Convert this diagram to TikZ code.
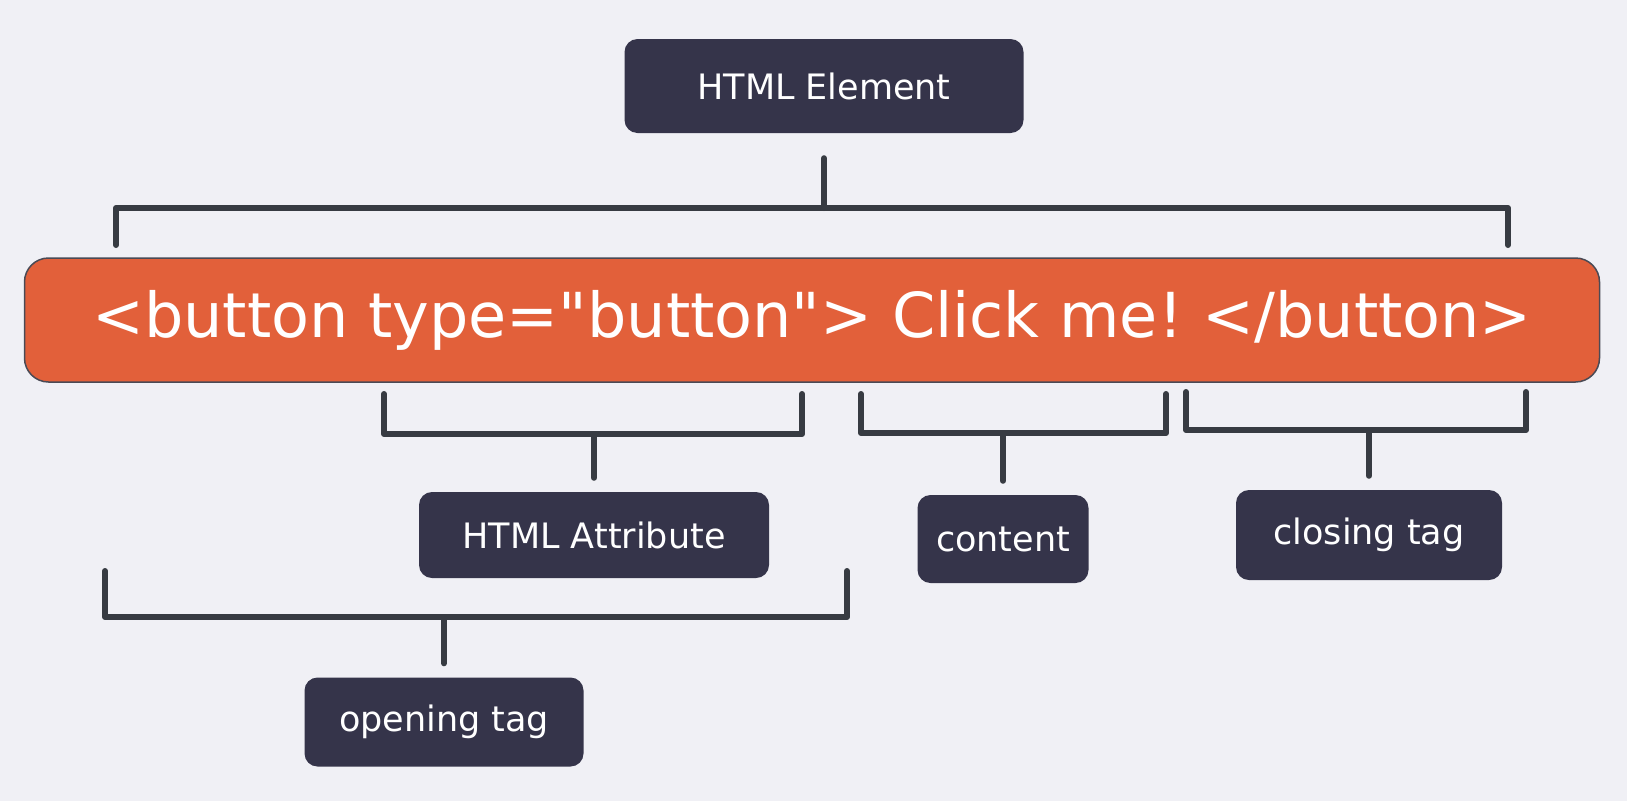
\documentclass[tikz,border=0pt]{standalone}
\usepackage{fontspec}
\setmainfont{DejaVu Sans}[Ligatures=TeXOff]
\usepackage{tikz}
\usetikzlibrary{calc}
\definecolor{bgpaper}{HTML}{F0F0F5}
\definecolor{dkbox}{HTML}{35344A}
\definecolor{tagorange}{HTML}{E2603A}
\definecolor{linegray}{HTML}{373B42}
\definecolor{edgegray}{HTML}{4A4A55}
\frenchspacing

\begin{document}
\begin{tikzpicture}[
    x=1pt, y=-1pt,
    tagbox/.style={
        fill=dkbox, rounded corners=13pt, text=white,
        font=\fontsize{35}{40}\selectfont, inner sep=0pt
    },
    codebox/.style={
        fill=tagorange, draw=edgegray, line width=1.5pt, rounded corners=24pt,
        minimum width=1575pt, minimum height=124pt, text=white,
        font=\fontsize{62}{72}\selectfont, inner sep=0pt
    },
    bracket/.style={draw=linegray, line width=6pt, line cap=round, line join=round}
]

% --- Background ---
\fill[bgpaper] (0,0) rectangle (1627,801);
\useasboundingbox (0,0) rectangle (1627,801);

% --- Element and code line ---
\node[tagbox, minimum width=399pt, minimum height=94pt] (element) at (824,86) {HTML Element};
\node[codebox] (code) at (812,320) {<button type="button"> Click me! </button>};

% --- Part labels ---
\node[tagbox, minimum width=350pt, minimum height=86pt] (attr) at (594,535) {HTML Attribute};
\node[tagbox, minimum width=171pt, minimum height=88pt] (content) at (1003,539) {content};
\node[tagbox, minimum width=266pt, minimum height=90pt] (closing) at (1369,535) {closing tag};
\node[tagbox, minimum width=279pt, minimum height=89pt] (opening) at (444,722) {opening tag};

% --- Top bracket ---
\coordinate (element-left) at (116,245);
\coordinate (element-right) at (1508,245);
\coordinate (element-bar) at (element.south |- 0,208);
\draw[bracket] (element-left) |- (element-bar) -| (element-right);
\draw[bracket] ([yshift=-25pt]element.south) -- (element-bar);

% --- Lower brackets ---
\foreach \n/\l/\r/\t/\b in {attr/384/802/394/434, content/861/1166/394/433,
                            closing/1186/1526/392/430, opening/105/847/571/617} {
    \coordinate (\n-left) at (\l,\t);
    \coordinate (\n-right) at (\r,\t);
    \coordinate (\n-bar) at (\n.north |- 0,\b);
    \draw[bracket] (\n-left) |- (\n-bar) -| (\n-right);
    \draw[bracket] (\n-bar) -- ([yshift=14pt]\n.north);
}

\end{tikzpicture}
\end{document}
